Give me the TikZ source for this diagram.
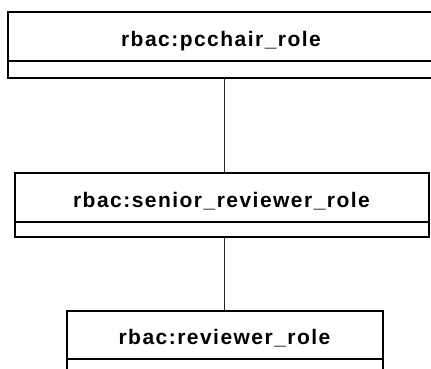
\documentclass[tikz,border=0pt]{standalone}
\usepackage{fontspec}
\newfontfamily\rolefamily[LetterSpace=7]{Liberation Sans}
\newcommand\rolefont{\rolefamily\bfseries\fontsize{21}{23}\selectfont}

\tikzset{
  rolehead/.style={draw, rectangle, line width=1pt, inner sep=0pt, minimum height=48pt, text height=20pt, text depth=0pt, font=\rolefont},
  rolebody/.style={draw, rectangle, line width=1pt, inner sep=0pt, minimum height=16pt, anchor=north},
  roleframe/.style={line width=2pt},
  inherit/.style={line width=1.2pt, draw=black!85}
}

\begin{document}
\begin{tikzpicture}[x=1pt, y=-1pt]
\useasboundingbox (0,0) rectangle (431,369);
\clip (0,0) rectangle (431,369);

% pc chair
\node[rolehead, minimum width=426pt] (pcchair) at (221,37) {rbac:pcchair\_role};
\node[rolebody, minimum width=426pt] (pcchairbody) at (pcchair.south) {};
\draw[roleframe] (pcchair.north west) rectangle (pcchairbody.south east);

% senior reviewer
\node[rolehead, minimum width=413pt] (senior) at (221.5,197) {rbac:senior\_reviewer\_role};
\node[rolebody, minimum width=413pt, minimum height=14pt] (seniorbody) at (senior.south) {};
\draw[roleframe] (senior.north west) rectangle (seniorbody.south east);

% reviewer
\node[rolehead, minimum width=315pt, minimum height=47pt] (reviewer) at (224.5,334.5) {rbac:reviewer\_role};
\node[rolebody, minimum width=315pt] (reviewerbody) at (reviewer.south) {};
\draw[roleframe] (reviewer.north west) rectangle (reviewerbody.south east);

% links
\draw[inherit] (reviewer.north |- pcchairbody.south) -- (reviewer.north |- senior.north);
\draw[inherit] (reviewer.north |- seniorbody.south) -- (reviewer.north);
\end{tikzpicture}
\end{document}
